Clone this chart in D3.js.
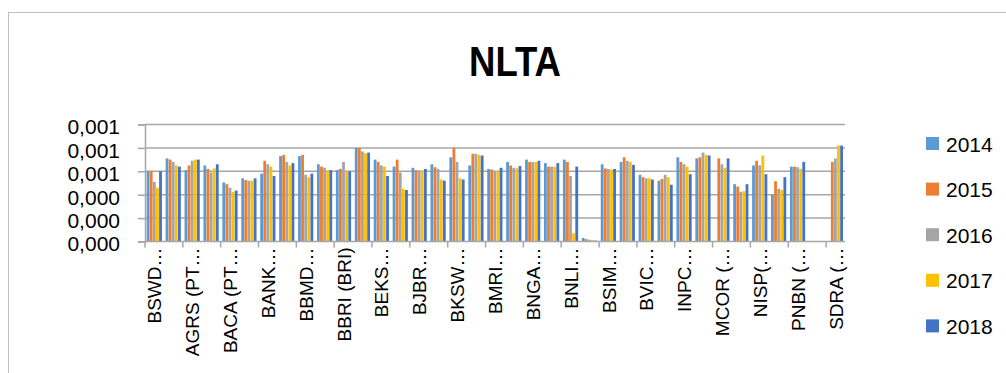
<!DOCTYPE html>
<html>
<head>
<meta charset="utf-8">
<script src="https://cdn.jsdelivr.net/npm/d3@7"></script>
<style>
  body { margin: 0; background: #fff; }
  svg { display: block; }
</style>
</head>
<body>
<svg id="chart" width="1006" height="373"></svg>
<script>
// category order as on the x axis (only every other label is shown)
var categories = [
  "BSWD…", "AGRO (PT…", "AGRS (PT…", "BABP (PT…", "BACA (PT…", "BAEK…", "BANK…", "BBCA…",
  "BBMD…", "BBNI…", "BBRI (BRI)", "BBTN…", "BEKS…", "BINA…", "BJBR…", "BJTM…",
  "BKSW…", "BMAS…", "BMRI…", "BNBA…", "BNGA…", "BNII…", "BNLI…", "BRIS…",
  "BSIM…", "BTPN…", "BVIC…", "DNAR…", "INPC…", "MAYA…", "MCOR (…", "MEGA…",
  "NISP(…", "NOBU…", "PNBN (…", "PNBS…", "SDRA (…"
];

var years = ["2014", "2015", "2016", "2017", "2018"];
var colors = ["#5b9bd5", "#ed7d31", "#a5a5a5", "#ffc000", "#4472c4"];

var s2014 = [0.00060, 0.00071, 0.00061, 0.00065, 0.000505, 0.00054, 0.00058, 0.00073, 0.00073, 0.00066,
  0.00061, 0.00080, 0.00070, 0.00064, 0.00063, 0.00066, 0.00072, 0.00065, 0.00062, 0.00068,
  0.00070, 0.00067, 0.00070, 0.00003, 0.00066, 0.00068, 0.00057, 0.00052, 0.00072, 0.00071,
  0, 0.00049, 0.00065, 0.00040, 0.00064, 0, 0];
var s2015 = [0.00060, 0.00070, 0.00065, 0.00062, 0.00049, 0.000525, 0.00069, 0.00074, 0.00074, 0.00064,
  0.00062, 0.00080, 0.00068, 0.00070, 0.00061, 0.000635, 0.00080, 0.00075, 0.000615, 0.00065,
  0.00068, 0.00064, 0.00068, 0.00002, 0.000625, 0.00072, 0.00055, 0.000535, 0.00068, 0.00072,
  0.00071, 0.00047, 0.00069, 0.000515, 0.00064, 0, 0.00068];
var s2016 = [0.00051, 0.00068, 0.00069, 0.00059, 0.00046, 0.00052, 0.00066, 0.00068, 0.00057, 0.00063,
  0.00068, 0.00077, 0.00065, 0.00059, 0.000605, 0.00062, 0.00068, 0.00075, 0.00060, 0.00063,
  0.00068, 0.00064, 0.00056, 0.000015, 0.00062, 0.00069, 0.00054, 0.00057, 0.00066, 0.00076,
  0.00066, 0.000425, 0.00065, 0.00045, 0.000635, 0, 0.00071];
var s2017 = [0.00046, 0.00065, 0.00070, 0.000625, 0.000425, 0.00052, 0.00064, 0.00065, 0.00055, 0.000605,
  0.000605, 0.000755, 0.00064, 0.00045, 0.000605, 0.00053, 0.00054, 0.00074, 0.00060, 0.000625,
  0.00068, 0.00064, 0.00007, 0.000012, 0.000615, 0.00068, 0.00054, 0.00055, 0.00064, 0.00074,
  0.00063, 0.00043, 0.000735, 0.00044, 0.00062, 0, 0.00082];
var s2018 = [0.00060, 0.00064, 0.00070, 0.00066, 0.000435, 0.00054, 0.00056, 0.00067, 0.00058, 0.00061,
  0.00060, 0.00076, 0.00056, 0.00044, 0.00062, 0.00052, 0.00053, 0.000735, 0.00063, 0.000645,
  0.00069, 0.00067, 0.00064, 0.000008, 0.00062, 0.000655, 0.00053, 0.000485, 0.000575, 0.000735,
  0.00071, 0.00049, 0.000575, 0.00055, 0.00068, 0, 0.00082];

var series = [s2014, s2015, s2016, s2017, s2018];
var yTicks = [0, 0.0002, 0.0004, 0.0006, 0.0008, 0.001];

var svg = d3.select("#chart");
var axisColor = "#a6a6a6";

// chart frame
svg.append("rect")
  .attr("x", 8.5).attr("y", 12.5)
  .attr("width", 1020).attr("height", 380)
  .attr("fill", "none")
  .attr("stroke", "#bfbfbf")
  .attr("stroke-width", 1);

// title (squeezed a bit, the original font is a narrow one)
svg.append("text")
  .attr("transform", "translate(515,76) scale(0.87,1)")
  .attr("text-anchor", "middle")
  .attr("font-family", "'Liberation Sans', Arial, sans-serif")
  .attr("font-weight", "bold")
  .attr("font-size", 42)
  .text("NLTA");

var plot = {left: 145, right: 845, top: 124.5, bottom: 241.5};

var x0 = d3.scaleBand()
  .domain(categories)
  .range([plot.left, plot.right])
  .paddingInner(0.18)
  .paddingOuter(0.09);

var x1 = d3.scaleBand()
  .domain(years)
  .range([0, x0.bandwidth()])
  .padding(0);

var y = d3.scaleLinear()
  .domain([0, 0.001])
  .range([plot.bottom, plot.top]);

var fmt = function(v) { return d3.format(".3f")(v).replace(".", ","); };

// horizontal gridlines
svg.append("g")
  .selectAll("line")
  .data(yTicks.slice(1))
  .join("line")
  .attr("x1", plot.left).attr("x2", plot.right)
  .attr("y1", function(d) { return y(d); })
  .attr("y2", function(d) { return y(d); })
  .attr("stroke", axisColor)
  .attr("stroke-width", 1.5);

// y axis
var yAxis = svg.append("g")
  .attr("transform", "translate(" + plot.left + ",0)")
  .call(d3.axisLeft(y).tickValues(yTicks).tickFormat(fmt).tickSize(7).tickPadding(18));
yAxis.select(".domain").attr("stroke", axisColor).attr("stroke-width", 1.5);
yAxis.selectAll(".tick line").attr("stroke", axisColor).attr("stroke-width", 1.5);
yAxis.selectAll(".tick text")
  .attr("dy", "0.45em")
  .attr("fill", "#000")
  .attr("font-family", "'Liberation Sans', Arial, sans-serif")
  .attr("font-size", 21);

// bars
var groups = svg.append("g")
  .selectAll("g")
  .data(categories)
  .join("g")
  .attr("transform", function(d) { return "translate(" + x0(d) + ",0)"; });

groups.selectAll("rect")
  .data(function(d, i) {
    return years.map(function(yr, k) { return {year: yr, k: k, value: series[k][i]}; });
  })
  .join("rect")
  .attr("x", function(d) { return x1(d.year); })
  .attr("width", x1.bandwidth() - 0.3)
  .attr("y", function(d) { return y(d.value); })
  .attr("height", function(d) { return plot.bottom - y(d.value); })
  .attr("fill", function(d) { return colors[d.k]; });

// x axis baseline + ticks every second category
var step = x0.step();
var tickPos = d3.range(0, categories.length + 1, 2).map(function(i) {
  return plot.left + x0.paddingOuter() * step - x0.paddingInner() * step / 2 + i * step;
});
svg.append("line")
  .attr("x1", plot.left).attr("x2", plot.right)
  .attr("y1", plot.bottom).attr("y2", plot.bottom)
  .attr("stroke", axisColor).attr("stroke-width", 1.5);
svg.append("g")
  .selectAll("line")
  .data(tickPos)
  .join("line")
  .attr("x1", function(d) { return d; }).attr("x2", function(d) { return d; })
  .attr("y1", plot.bottom).attr("y2", plot.bottom + 6)
  .attr("stroke", axisColor).attr("stroke-width", 1.5);

// category labels, every other one, rotated
svg.append("g")
  .selectAll("text")
  .data(categories.filter(function(d, i) { return i % 2 === 0; }))
  .join("text")
  .attr("transform", function(d) {
    return "translate(" + (x0(d) + x0.bandwidth() / 2 + 7) + "," + (plot.bottom + 6) + ") rotate(-90)";
  })
  .attr("text-anchor", "end")
  .attr("font-family", "'Liberation Sans', Arial, sans-serif")
  .attr("font-size", 19)
  .text(function(d) { return d; });

// legend
var legend = svg.append("g")
  .selectAll("g")
  .data(years)
  .join("g")
  .attr("transform", function(d, i) { return "translate(926," + (144 + i * 45.6) + ")"; });
legend.append("rect")
  .attr("x", 0).attr("y", -7)
  .attr("width", 13).attr("height", 13)
  .attr("fill", function(d, i) { return colors[i]; });
legend.append("text")
  .attr("x", 20).attr("y", 0)
  .attr("dy", "0.36em")
  .attr("font-family", "'Liberation Sans', Arial, sans-serif")
  .attr("font-size", 21)
  .text(function(d) { return d; });
</script>
</body>
</html>
